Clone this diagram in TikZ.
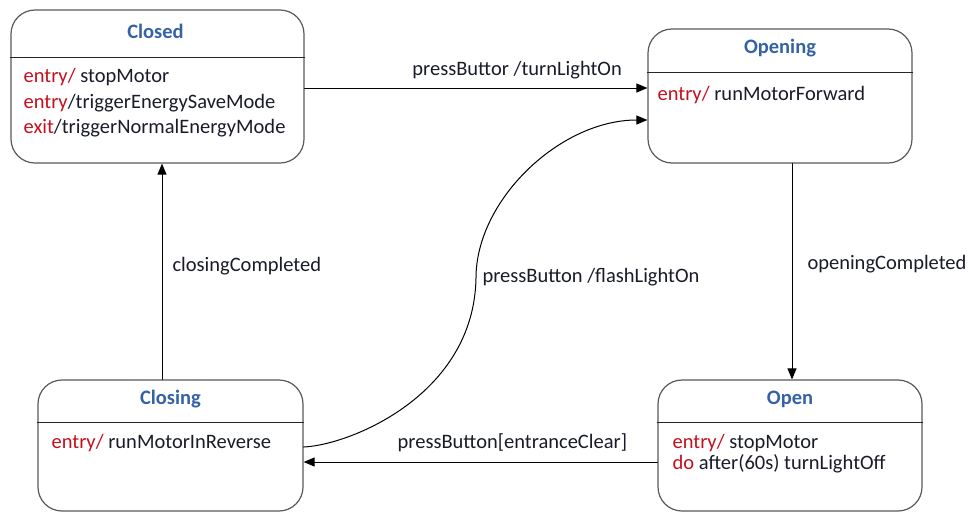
\documentclass[tikz,border=0pt]{standalone}
\usepackage{fontspec}
\setmainfont{Carlito}
\usetikzlibrary{arrows.meta}
\definecolor{titleblue}{RGB}{52,98,165}
\definecolor{keyred}{RGB}{196,16,28}
\definecolor{inktext}{RGB}{25,27,40}
\newcommand{\kw}[1]{\textcolor{keyred}{#1}}
\begin{document}
\begin{tikzpicture}[x=1pt,y=-1pt,line cap=round,line join=round,>={Triangle[length=11pt,width=9pt]},
  state/.style={draw=black!65,line width=1.2pt,rounded corners=24pt,inner sep=0pt},
  stitle/.style={font=\fontsize{20.5}{24}\selectfont\bfseries,text=titleblue,inner sep=0pt},
  sbody/.style={font=\fontsize{20.5}{25.5}\selectfont,text=inktext,align=left,anchor=north west,inner sep=0pt},
  divider/.style={line width=1.1pt,draw=black!85},
  trans/.style={line width=1pt,->},
  tlabel/.style={font=\fontsize{20.5}{24}\selectfont,text=inktext,inner sep=0pt}]
  \useasboundingbox (0,0) rectangle (977,512);
  % states
  \node[state,minimum width=293pt,minimum height=153pt] (closed) at (157.5,86.5) {};
  \node[state,minimum width=264pt,minimum height=134pt] (opening) at (780,96) {};
  \node[state,minimum width=265pt,minimum height=131pt] (closing) at (170.5,445.5) {};
  \node[state,minimum width=264pt,minimum height=131pt] (open) at (790,445.5) {};
  % titles and compartments
  \node[stitle] (closed-title) at ([xshift=-2pt,yshift=-21.5pt]closed.north) {Closed};
  \draw[divider] ([yshift=-48pt]closed.north west) -- ([yshift=-48pt]closed.north east);
  \node[stitle] (opening-title) at ([yshift=-20pt]opening.north) {Opening};
  \draw[divider] ([yshift=-44pt]opening.north west) -- ([yshift=-44pt]opening.north east);
  \node[stitle] (closing-title) at ([yshift=-20pt]closing.north) {Closing};
  \draw[divider] ([yshift=-43pt]closing.north west) -- ([yshift=-43pt]closing.north east);
  \node[stitle] (open-title) at ([yshift=-20pt]open.north) {Open};
  \draw[divider] ([yshift=-43pt]open.north west) -- ([yshift=-43pt]open.north east);
  % internal activities
  \node[sbody] (closed-body) at ([xshift=13pt,yshift=-59pt]closed.north west)
    {\kw{entry/} stopMotor\\ \kw{entry}/triggerEnergySaveMode\\ \kw{exit}/triggerNormalEnergyMode};
  \node[sbody] (opening-body) at ([xshift=10pt,yshift=-58pt]opening.north west)
    {\kw{entry/} runMotorForward};
  \node[sbody] (closing-body) at ([xshift=14pt,yshift=-55pt]closing.north west)
    {\kw{entry/} runMotorInReverse};
  \node[sbody,font=\fontsize{20.5}{21}\selectfont] (open-body) at ([xshift=15pt,yshift=-55pt]open.north west)
    {\kw{entry/} stopMotor\\ \kw{do} after(60s) turnLightOff};
  % transitions
  \draw[trans] ([yshift=-1.5pt]closed.east) -- ([yshift=-1.5pt]closed.east -| opening.west)
    node[tlabel,pos=0.62,above=8pt] (press-light) {pressButtor /turnLightOn};
  \draw[trans] ([xshift=2pt]open.north |- opening.south) -- ([xshift=2pt]open.north)
    node[tlabel,pos=0.465,anchor=west,xshift=15pt] (open-done) {openingCompleted};
  \draw[trans] ([yshift=-16.5pt]open.west) -- ([yshift=-16.5pt]open.west -| closing.east)
    node[tlabel,pos=0.41,above=10pt] (press-clear) {pressButton[entranceClear]};
  \draw[trans] ([xshift=-8.5pt]closing.north) -- ([xshift=-8.5pt]closing.north |- closed.south)
    node[tlabel,pos=0.525,anchor=west,xshift=10pt] (close-done) {closingCompleted};
  \draw[trans] ([yshift=-1.5pt]closing.east) .. controls (350,445) and (474,395) .. (476,278)
    node[tlabel,anchor=west,xshift=6pt,yshift=1pt] (press-flash) {pressButton /flashLightOn}
    .. controls (476,200) and (560,120) .. ([yshift=-24pt]opening.west);
\end{tikzpicture}
\end{document}
